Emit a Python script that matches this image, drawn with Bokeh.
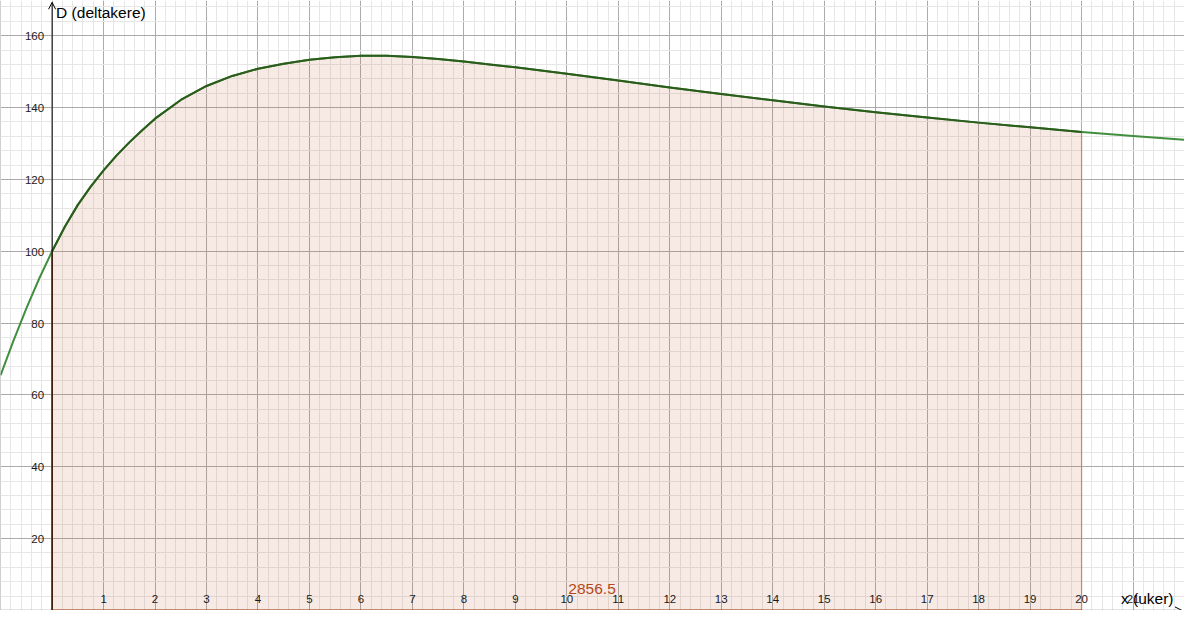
import numpy as np
from bokeh.plotting import figure
from bokeh.models import ColumnDataSource, FixedTicker, Arrow, OpenHead
from bokeh.core.properties import value
from bokeh.embed import file_html
from bokeh.resources import INLINE

# ---- data ----
x_weeks = [-1.0, -0.75, -0.5, -0.25, 0, 0.25, 0.5, 0.75, 1, 1.25, 1.5, 1.75,
           2, 2.5, 3, 3.5, 4, 4.5, 5, 5.5, 6, 6.5, 7, 7.5, 8, 8.5, 9, 9.5,
           10, 11, 12, 13, 14, 15, 16, 17, 18, 19, 20, 21, 22]
participants = [65.5, 75.1, 84.1, 92.4, 100, 106.9, 112.9, 118.0, 122.5, 126.6, 130.3, 133.7,
                136.9, 142.1, 146.0, 148.8, 150.8, 152.2, 153.3, 154.0, 154.4, 154.4, 154.1, 153.5,
                152.8, 152.0, 151.2, 150.3, 149.4, 147.5, 145.6, 143.8, 142.0, 140.3, 138.7, 137.2,
                135.8, 134.5, 133.2, 132.1, 131.0]
integral_from = 0
integral_to = 20
integral_value = "2856.5"
x_tick_labels = [str(i) for i in range(1, 22)]
y_tick_labels = [str(v) for v in range(20, 161, 20)]
x_label = "x (uker)"
y_label = "D (deltakere)"

X_START, X_END = -1.0025, 22.0
Y_START, Y_END = -0.03, 169.8

FONT = value("Liberation Sans")

p = figure(width=1184, height=610, x_range=(X_START, X_END), y_range=(Y_START, Y_END),
           x_axis_location=None, y_axis_location=None,
           output_backend="svg", toolbar_location=None, min_border=0)
p.outline_line_color = None
p.background_fill_color = "white"

# grids
p.xgrid.ticker = FixedTicker(ticks=list(range(-1, 23)),
                             minor_ticks=list(np.round(np.arange(-1, 22.01, 0.2), 2)))
p.ygrid.ticker = FixedTicker(ticks=list(range(0, 181, 20)),
                             minor_ticks=list(range(0, 181, 4)))
for g in (p.xgrid, p.ygrid):
    g.grid_line_color = "#ababab"
    g.grid_line_width = 1
    g.minor_grid_line_color = "#e6e6e6"
    g.minor_grid_line_width = 1

xa = np.array(x_weeks, dtype=float)
da = np.array(participants, dtype=float)
inside = (xa >= integral_from) & (xa <= integral_to)

# shaded integral region
p.varea(x=xa[inside], y1=0, y2=da[inside], fill_color="#c0501e", fill_alpha=0.12)
d_from = da[xa == integral_from][0]
d_to = da[xa == integral_to][0]
p.segment(x0=[integral_from, integral_to], y0=[0, 0], x1=[integral_from, integral_to],
          y1=[d_from, d_to], line_color=["#a8401a", "#d0865a"], line_width=[1.6, 1.2])
p.segment(x0=[integral_from], y0=[0], x1=[integral_to], y1=[0],
          line_color="#c0501e", line_width=2)

# axes
p.add_layout(Arrow(end=OpenHead(size=7, line_width=1, line_color="black"),
                   x_start=0, y_start=Y_START, x_end=0, y_end=Y_END - 0.5,
                   line_color="black", line_width=1))
p.add_layout(Arrow(end=OpenHead(size=7, line_width=1, line_color="black"),
                   x_start=X_START, y_start=0, x_end=X_END - 0.05, y_end=0,
                   line_color="black", line_width=1))

# curve
p.line(xa, da, line_color="#3f8f3f", line_width=2, line_join="round")
p.line(xa[inside], da[inside], line_color="#2c5c1c", line_width=2, line_join="round")

# tick labels
xt = ColumnDataSource(dict(x=[int(s) for s in x_tick_labels], y=[0] * len(x_tick_labels),
                           t=x_tick_labels))
p.text(x="x", y="y", text="t", source=xt, text_font=FONT, text_font_size="11.5px",
       text_color="#1a1a1a", text_align="center", text_baseline="middle", y_offset=-11)
yt = ColumnDataSource(dict(x=[0] * len(y_tick_labels), y=[int(s) for s in y_tick_labels],
                           t=y_tick_labels))
p.text(x="x", y="y", text="t", source=yt, text_font=FONT, text_font_size="11.5px",
       text_color="#1a1a1a", text_align="right", text_baseline="middle", x_offset=-8, y_offset=0.5)

# axis labels
p.text(x=[0], y=[Y_END], text=[y_label], text_font=FONT, text_font_size="15.5px",
       text_color="black", text_align="left", text_baseline="top", x_offset=4, y_offset=3)
p.text(x=[X_END], y=[0], text=[x_label], text_font=FONT, text_font_size="15.5px",
       text_color="black", text_align="right", text_baseline="middle", x_offset=-11, y_offset=-12)

# integral value label
p.text(x=[(integral_from + integral_to) / 2 + 0.03], y=[0], text=[integral_value], text_font=FONT,
       text_font_size="15.5px", text_color="#b4481c", text_align="left",
       text_baseline="middle", y_offset=-21)

open("out.html", "w").write(file_html(p, INLINE))
